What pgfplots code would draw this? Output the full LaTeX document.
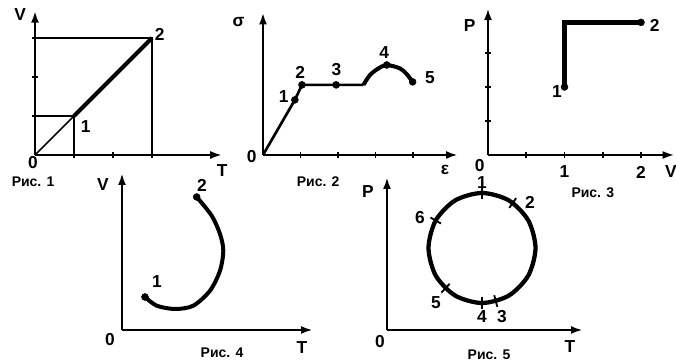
\documentclass[border=0pt]{standalone}
\usepackage{fontspec}
\setmainfont{Liberation Sans}
\usepackage{pgfplots}
\pgfplotsset{compat=1.18}
\usetikzlibrary{arrows.meta}

% one style for all five small diagrams
\pgfplotsset{
  sk/.style={
    anchor=origin,
    axis lines=left,
    enlargelimits=false,
    clip=false,
    axis line style={line width=2pt, -{Latex[length=9pt,width=6pt]}},
    tick style={line width=1.2pt, black},
    major tick length=4.5pt,
    tick align=center,
    xticklabel={\relax}, yticklabel={\relax},
    xtick=\empty, ytick=\empty,
  },
  dot/.style={only marks, mark=*, mark size=2.6pt},
}
\tikzset{figcap/.style={font=\bfseries\fontsize{10.5}{10.5}\selectfont}}

\begin{document}
\begin{tikzpicture}[font=\bfseries\fontsize{13}{13}\selectfont]
\useasboundingbox (0,0) rectangle (507pt,272.25pt);

% Рис. 1
\begin{axis}[sk, at={(26.25pt,156pt)}, x=29.25pt, y=29.25pt,
  xmin=0, xmax=4.8, ymin=0, ymax=3.7, xtick={1,2,3}, ytick={1,2,3}]
\addplot[line width=1.3pt] coordinates {(0,0) (1,1)};
\addplot[line width=3pt] coordinates {(1,1) (3,3)};
\addplot[line width=1.5pt] coordinates {(0,1) (1,1) (1,0)};
\addplot[line width=1.5pt] coordinates {(0,3) (3,3) (3,0)};
\node at (1.3,0.72) {1};
\node at (3.2,3.1) {2};
\node at (-0.38,3.6) {V};
\node at (4.8,-0.4) {T};
\node at (-0.05,-0.2) {0};
\node[figcap] at (-0.05,-0.68) {Рис. 1};
\end{axis}

% Рис. 2
\begin{axis}[sk, at={(197.25pt,156pt)}, x=28.125pt, y=28.125pt,
  xmin=0, xmax=5.2, ymin=0, ymax=3.8, xtick={1,2,3,4}]
\addplot[line width=2pt] coordinates {(0,0) (0.85,1.47) (1.04,1.87) (2.68,1.87)};
\addplot[line width=3pt, smooth] coordinates {
  (2.68,1.87) (2.85,2.13) (3.08,2.31) (3.3,2.4) (3.65,2.31) (3.83,2.16) (3.99,1.95)};
\addplot[dot] coordinates {(0.85,1.47) (1.04,1.87) (1.95,1.87) (3.3,2.4) (3.99,1.95)};
\node at (0.55,1.55) {1};
\node at (0.99,2.2) {2};
\node at (1.96,2.27) {3};
\node at (3.23,2.72) {4};
\node at (4.45,2.05) {5};
\node at (-0.65,3.55) {σ};
\node at (4.85,-0.4) {ε};
\node at (-0.3,-0.05) {0};
\node[figcap] at (1.47,-0.72) {Рис. 2};
\end{axis}

% Рис. 3
\begin{axis}[sk, at={(366pt,156pt)}, x=57.375pt, y=51pt,
  xmin=0, xmax=2.44, ymin=0, ymax=2.16, xtick={0.5,1,1.5,2}, ytick={0.5,1,1.5}]
\addplot[line width=3.2pt] coordinates {(1,1) (1,1.95) (2,1.95)};
\addplot[dot] coordinates {(1,1) (2,1.95)};
\node at (0.9,0.93) {1};
\node at (2.18,1.9) {2};
\node at (-0.24,1.91) {P};
\node at (-0.11,-0.15) {0};
\node at (1,-0.25) {1};
\node at (2,-0.25) {2};
\node at (2.39,-0.24) {V};
\node[figcap] at (1.37,-0.56) {Рис. 3};
\end{axis}

% Рис. 4
\begin{axis}[sk, at={(91.5pt,24.75pt)}, x=0.75pt, y=0.75pt,
  xmin=0, xmax=191, ymin=0, ymax=157]
\addplot[line width=3pt, smooth] coordinates {
  (23,33) (34.7,24.3) (53,21) (71.3,24.3) (88,39.3) (98,59.3)
  (101.3,79.3) (98,96) (89.7,114.3) (74.7,133)};
\addplot[dot] coordinates {(23,33) (74.7,133)};
\node at (35,48) {1};
\node at (80,145) {2};
\node at (-19,145) {V};
\node at (180,-18) {T};
\node at (-12,-10) {0};
\node[figcap] at (100,-23) {Рис. 4};
\end{axis}

% Рис. 5
\begin{axis}[sk, at={(290.25pt,24.75pt)}, x=0.75pt, y=0.75pt,
  xmin=0, xmax=196, ymin=0, ymax=153]
\addplot[line width=3.2pt, smooth cycle] coordinates {
  (148.5,82) (141.3,109.5) (121.8,129.6) (95,137) (68.2,129.6) (48.7,109.5)
  (41.5,82) (48.7,54.5) (68.2,34.4) (95,27) (121.8,34.4) (141.3,54.5)};
\addplot[only marks, mark=|, mark size=4.5pt, line width=1.4pt] coordinates {(95,137) (95,27)};
\addplot[only marks, mark=|, mark size=4.5pt, line width=1.4pt, mark options={rotate=-35}] coordinates {(125.7,127)};
\addplot[only marks, mark=|, mark size=4.5pt, line width=1.4pt, mark options={rotate=60}] coordinates {(48.7,109.5)};
\addplot[only marks, mark=|, mark size=4.5pt, line width=1.4pt, mark options={rotate=137}] coordinates {(58.5,41.8)};
\addplot[only marks, mark=|, mark size=4.5pt, line width=1.4pt, mark options={rotate=15}] coordinates {(108.8,28.9)};
\node at (95,147) {1};
\node at (143,128) {2};
\node at (33,112) {6};
\node at (49,27) {5};
\node at (95,13) {4};
\node at (115,13) {3};
\node at (-19,138) {P};
\node at (183,-17) {T};
\node at (-7,-12) {0};
\node[figcap] at (102,-25) {Рис. 5};
\end{axis}
\end{tikzpicture}
\end{document}
